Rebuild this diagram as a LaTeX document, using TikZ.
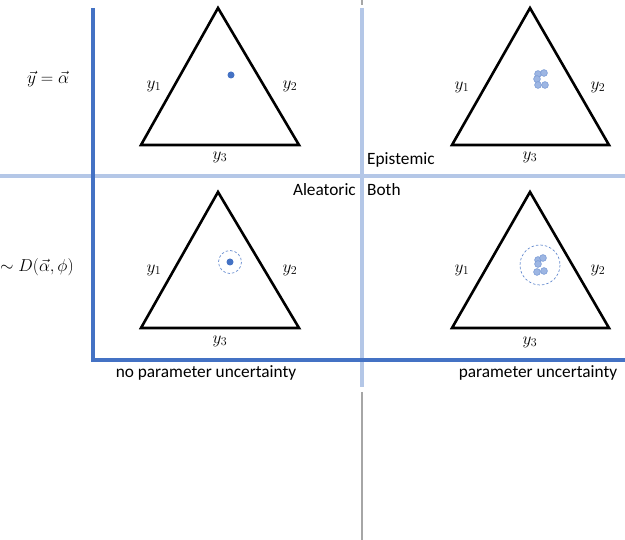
\documentclass[tikz,border=0pt]{standalone}
\usepackage{fontspec}
\setmainfont{Carlito}
\definecolor{dblue}{HTML}{4472C4}
\definecolor{lblue}{HTML}{B4C7E7}
\definecolor{dotfill}{HTML}{9DB6E3}
\definecolor{lgray}{HTML}{A6A6A6}
\begin{document}
\begin{tikzpicture}[x=1pt,y=-1pt,
  tri/.style={draw=black,line width=2.6pt,line join=miter},
  lab/.style={inner sep=0pt,font=\fontsize{17.5}{18}\selectfont},
  txt/.style={inner sep=0pt,font=\fontsize{17.3}{19}\selectfont},
  bigdot/.style={fill=dblue,draw=none},
  smalldot/.style={fill=dotfill,draw=dblue!70,line width=0.6pt},
  dcirc/.style={draw=dblue!80,dashed,line width=0.7pt,dash pattern=on 2.5pt off 2pt}]
\useasboundingbox (0,0) rectangle (625,540);
% grid lines
\draw[lgray,line width=2.5pt] (362,0) -- (362,5);
\draw[lgray,line width=2.5pt] (362,392) -- (362,540);
\draw[lblue,line width=4pt] (362,8) -- (362,387);
\draw[lblue,line width=4pt] (0,176) -- (625,176);
\draw[dblue,line width=4pt] (93,8) -- (93,360) -- (625,360);
% triangles
\draw[tri] (218,8) -- (299,145) -- (141,145) -- cycle;
\draw[tri] (530,8) -- (609,145) -- (452,145) -- cycle;
\draw[tri] (218,192) -- (299,328) -- (141,328) -- cycle;
\draw[tri] (530,192) -- (609,328) -- (452,328) -- cycle;
% vertex labels
\node[lab] (a1) at (154,86) {$y_1$};
\node[lab] (a2) at (290,86) {$y_2$};
\node[lab] (a3) at (220,157) {$y_3$};
\node[lab] (b1) at (462,87) {$y_1$};
\node[lab] (b2) at (598,87) {$y_2$};
\node[lab] (b3) at (530,157) {$y_3$};
\node[lab] (c1) at (154,270) {$y_1$};
\node[lab] (c2) at (290,270) {$y_2$};
\node[lab] (c3) at (220,341) {$y_3$};
\node[lab] (d1) at (462,270) {$y_1$};
\node[lab] (d2) at (598,270) {$y_2$};
\node[lab] (d3) at (530,342) {$y_3$};
% dots
\fill[bigdot] (231,75) circle (3.5);
\fill[bigdot] (230,262) circle (3.5);
\draw[dcirc] (230,262) circle (11.5);
\foreach \p in {(538,74),(544,73),(537,79),(538,85),(545,85)}
  \draw[smalldot] \p circle (3.4);
\foreach \p in {(538,260),(543,258),(538,264),(537,272),(544,271)}
  \draw[smalldot] \p circle (3.4);
\draw[dcirc] (540,265) circle (20);
% texts
\node[lab] (r1) at (48,79) {$\vec{y}=\vec{\alpha}$};
\node[lab,anchor=west] (r2) at (0,267) {$\sim D(\vec{\alpha},\phi)$};
\node[txt,anchor=west] (ep) at (367,160) {Epistemic};
\node[txt,anchor=east] (al) at (356,190) {Aleatoric};
\node[txt,anchor=west] (bo) at (367,190) {Both};
\node[txt] (np) at (206,373) {no parameter uncertainty};
\node[txt] (pu) at (538,373) {parameter uncertainty};
\end{tikzpicture}
\end{document}
